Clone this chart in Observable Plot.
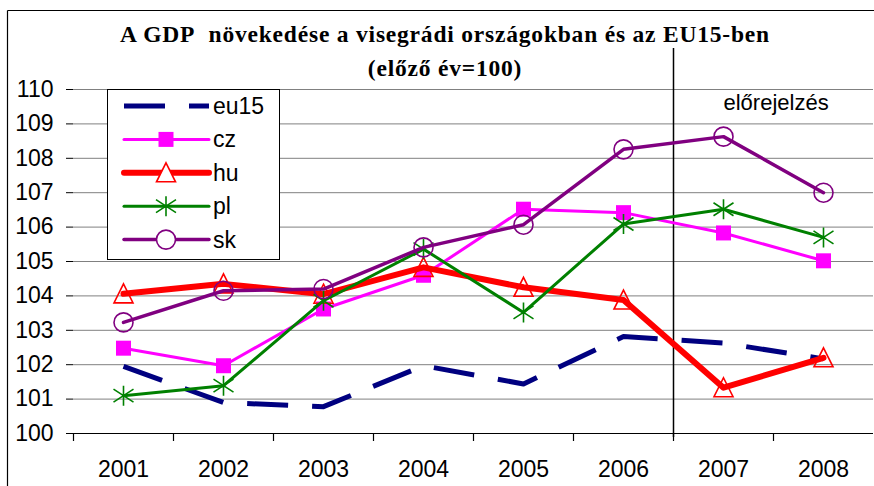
<!DOCTYPE html>
<html>
<head>
<meta charset="utf-8">
<script src="https://cdn.jsdelivr.net/npm/d3@7"></script>
<script src="https://cdn.jsdelivr.net/npm/@observablehq/plot@0.6"></script>
<style>
  body { margin: 0; background: #fff; }
  #chart { width: 874px; height: 486px; }
</style>
</head>
<body>
<div id="chart"></div>
<script>
// ---- data ----
const years = ["2001", "2002", "2003", "2004", "2005", "2006", "2007", "2008"];
const seriesNames = ["eu15", "cz", "hu", "pl", "sk"];
const eu15 = [101.95, 100.90, 100.78, 101.97, 101.44, 102.82, 102.63, 102.17];
const cz   = [102.48, 101.97, 103.62, 104.60, 106.52, 106.42, 105.83, 105.02];
const hu   = [104.06, 104.35, 104.05, 104.83, 104.25, 103.88, 101.33, 102.20];
const pl   = [101.10, 101.39, 103.86, 105.36, 103.52, 106.09, 106.52, 105.70];
const sk   = [103.23, 104.15, 104.20, 105.41, 106.07, 108.26, 108.63, 107.00];
const yTicks = [100, 101, 102, 103, 104, 105, 106, 107, 108, 109, 110];
const titleLines = ["A GDP\u00a0 növekedése a visegrádi országokban és az EU15-ben", "(előző év=100)"];
const forecastLabel = "előrejelzés";
const forecastStart = "2007";

const seriesValues = { eu15, cz, hu, pl, sk };
const rows = seriesNames.flatMap(s => years.map((year, i) => ({ series: s, year, value: seriesValues[s][i] })));

// ---- marker symbols (Excel-like) ----
const rOf = s => Math.sqrt(s / Math.PI);
const symbols = {
  square: { draw(c, s) { const h = 0.75 * rOf(s); c.rect(-h, -h, 2 * h, 2 * h); } },
  triangle: { draw(c, s) { const r = rOf(s); c.moveTo(0, -r); c.lineTo(0.95 * r, 0.9 * r); c.lineTo(-0.95 * r, 0.9 * r); c.closePath(); } },
  star: { draw(c, s) { const r = rOf(s); c.moveTo(0, -r); c.lineTo(0, r); c.moveTo(-r, -0.65 * r); c.lineTo(r, 0.65 * r); c.moveTo(-r, 0.65 * r); c.lineTo(r, -0.65 * r); } },
  circle: { draw(c, s) { const r = 0.95 * rOf(s); c.moveTo(r, 0); c.arc(0, 0, r, 0, 2 * Math.PI); } }
};

// ---- styles ----
const styles = {
  eu15: { color: "#000080", width: 5, dash: "41,24", cap: "butt", symbol: null },
  cz:   { color: "#FF00FF", width: 3, dash: null, cap: "round", symbol: "square", fill: true },
  hu:   { color: "#FF0000", width: 6, dash: null, cap: "round", symbol: "triangle", fill: false },
  pl:   { color: "#008000", width: 3, dash: null, cap: "round", symbol: "star", fill: false },
  sk:   { color: "#800080", width: 3.5, dash: null, cap: "round", symbol: "circle", fill: false }
};

const FONT = "'Liberation Sans', Arial, sans-serif";
const step = 800 / years.length; // band width in px (frame 73..873)

const marks = [
  Plot.ruleY(yTicks, { y: d => d, stroke: "#808080", strokeWidth: 1 }),
  Plot.ruleY([yTicks[0]], { y: d => d, stroke: "#000", strokeWidth: 1.2 }),
  Plot.ruleX([0], { frameAnchor: "left", stroke: "#000", strokeWidth: 1.2 }),
  Plot.axisY({ ticks: yTicks, tickFormat: d => d, tickSize: 7, tickPadding: 13, fontSize: 23, label: null, stroke: "#000", fill: "#000" }),
  Plot.axisX({ tickSize: 0, tickPadding: 27, fontSize: 23, label: null, fill: "#000" }),
  Plot.ruleX(years, { x: d => d, dx: -step / 2, y1: yTicks[0], y2: yTicks[0], insetBottom: -8, stroke: "#000", strokeWidth: 1.2 }),
  Plot.ruleX([forecastStart], { x: d => d, dx: -step / 2, y1: yTicks[yTicks.length - 1], y2: yTicks[0], insetTop: -41, insetBottom: -4, stroke: "#000", strokeWidth: 1.5 }),
  Plot.text([forecastLabel], { x: () => forecastStart, y: () => 109.6, text: d => d, textAnchor: "start", fontSize: 22, fill: "#000" })
];

for (const s of seriesNames) {
  const st = styles[s];
  const data = rows.filter(r => r.series === s);
  marks.push(Plot.line(data, { x: "year", y: "value", stroke: st.color, strokeWidth: st.width, strokeDasharray: st.dash, strokeLinecap: st.cap, strokeLinejoin: "round" }));
  if (st.symbol) {
    marks.push(Plot.dot(data, {
      x: "year", y: "value", r: 10, symbol: symbols[st.symbol],
      fill: st.fill ? st.color : "none", stroke: st.fill ? "none" : st.color, strokeWidth: 1.6
    }));
  }
}

const plot = Plot.plot({
  width: 874, height: 486,
  marginLeft: 73, marginRight: 1, marginTop: 89, marginBottom: 53,
  style: { fontFamily: FONT, background: "#fff", overflow: "visible", color: "#000" },
  x: { type: "point", domain: years, padding: 0.5, label: null },
  y: { domain: [yTicks[0], yTicks[yTicks.length - 1]], label: null },
  marks
});

const svg = d3.select(plot);

// outer frame (top and left edges visible)
svg.append("line").attr("x1", 7.5).attr("x2", 874).attr("y1", 10.5).attr("y2", 10.5).attr("stroke", "#000").attr("stroke-width", 1.2);
svg.append("line").attr("x1", 7.5).attr("x2", 7.5).attr("y1", 10.5).attr("y2", 486).attr("stroke", "#000").attr("stroke-width", 1.2);

// title
titleLines.forEach((t, i) => {
  svg.append("text").attr("x", 445).attr("y", 42 + i * 34)
    .attr("text-anchor", "middle")
    .style("font-family", "'Liberation Serif', 'Times New Roman', serif")
    .style("font-weight", "bold").style("font-size", "23.5px").style("letter-spacing", "0.8px").style("white-space", "pre")
    .attr("fill", "#000").text(t);
});

// legend
const lg = svg.append("g");
lg.append("rect").attr("x", 107.5).attr("y", 89.5).attr("width", 172).attr("height", 170)
  .attr("fill", "#fff").attr("stroke", "#000").attr("stroke-width", 1);
seriesNames.forEach((s, i) => {
  const st = styles[s];
  const y = 106 + 33.4 * i;
  lg.append("line").attr("x1", 124).attr("x2", 209).attr("y1", y).attr("y2", y)
    .attr("stroke", st.color).attr("stroke-width", st.width)
    .attr("stroke-dasharray", st.dash).attr("stroke-linecap", st.cap);
  if (st.symbol) {
    const p = d3.path();
    symbols[st.symbol].draw(p, 100 * Math.PI);
    lg.append("path").attr("d", p.toString()).attr("transform", `translate(166,${y})`)
      .attr("fill", st.fill ? st.color : (st.symbol === "star" ? "none" : "#fff"))
      .attr("stroke", st.fill ? "none" : st.color).attr("stroke-width", 1.6);
  }
  lg.append("text").attr("x", 213).attr("y", y).attr("dy", "0.35em")
    .attr("text-anchor", "start")
    .style("font-family", FONT).style("font-size", "23px").attr("fill", "#000").text(s);
});

document.getElementById("chart").appendChild(plot);
</script>
</body>
</html>
